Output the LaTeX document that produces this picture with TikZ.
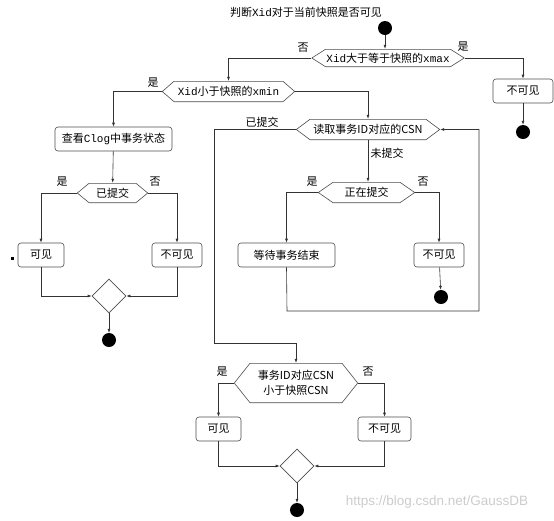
\documentclass[tikz,border=0pt]{standalone}
\usepackage{fontspec}
\setmainfont{Noto Sans CJK SC}
\setmonofont{Liberation Mono}
\newfontfamily\wmfont{Liberation Sans}
\usetikzlibrary{arrows.meta,shapes.geometric}

\tikzset{
  conn/.style={draw=black!80, line width=.6pt},
  arr/.style={conn, -{Latex[length=4pt,width=3pt]}},
  box/.style={draw=black!70, line width=.6pt, rounded corners=3pt, minimum height=24pt, inner sep=0pt},
  hexa/.style={inner sep=0pt, path picture={
      \draw[draw=black!70, line width=.6pt]
        ([xshift=.3pt]path picture bounding box.west)
        -- ([xshift=#1, yshift=-.3pt]path picture bounding box.north west)
        -- ([xshift=-#1, yshift=-.3pt]path picture bounding box.north east)
        -- ([xshift=-.3pt]path picture bounding box.east)
        -- ([xshift=-#1, yshift=.3pt]path picture bounding box.south east)
        -- ([xshift=#1, yshift=.3pt]path picture bounding box.south west)
        -- cycle;}},
  blob/.style={circle, fill=black, minimum size=14pt, inner sep=0pt},
  diam/.style={diamond, draw=black!70, line width=.6pt, minimum width=34pt, minimum height=34pt, inner sep=0pt},
  lab/.style={inner sep=0pt}
}

\begin{document}
\begin{tikzpicture}[x=1pt, y=-1pt, font=\fontsize{11}{15}\selectfont]
  \useasboundingbox (0,0) rectangle (554,520);

  % top decision
  \node (title) at (306,12) {判断\texttt{Xid}对于当前快照是否可见};
  \node[blob] (s1) at (385,28) {};
  \node[hexa=14pt, minimum width=153pt, minimum height=18pt] (h1) at (388,58) {\texttt{Xid}大于等于快照的\texttt{xmax}};
  \node[lab] (no1) at (303,48) {否};
  \node[lab] (yes1) at (463,47) {是};
  \node[box, minimum width=60pt] (r1) at (523,91) {不可见};
  \node[blob] (e1) at (523,132) {};

  % xmin decision
  \node[hexa=12pt, minimum width=133pt, minimum height=21pt] (h2) at (228.5,91.5) {\texttt{Xid}小于快照的\texttt{xmin}};
  \node[lab] (yes2) at (153,83) {是};

  % clog branch
  \node[box, minimum width=117pt] (b1) at (113.5,139) {查看\texttt{Clog}中事务状态};
  \node[hexa=12pt, minimum width=71pt, minimum height=20pt] (h4) at (112.5,193) {已提交};
  \node[lab] (yes4) at (62,182) {是};
  \node[lab] (no4) at (155,182) {否};
  \node[box, minimum width=46pt] (v1) at (41,255) {可见};
  \node[box, minimum width=50pt] (n1) at (177,255) {不可见};
  \node[fill=black, minimum size=3pt, inner sep=0pt] (sq) at (12,258) {};
  \node[diam] (d1) at (109,296) {};
  \node[blob] (e2) at (109,340) {};

  % csn branch
  \node[hexa=14pt, minimum width=144pt, minimum height=21pt] (h3) at (368,129.5) {读取事务ID对应的CSN};
  \node[lab] (done) at (262,122) {已提交};
  \node[lab] (undone) at (387,153) {未提交};
  \node[hexa=15pt, minimum width=97pt, minimum height=21pt] (h5) at (366.5,192.5) {正在提交};
  \node[lab] (yes5) at (312,182) {是};
  \node[lab] (no5) at (423,182) {否};
  \node[box, minimum width=97pt] (w1) at (286.5,255) {等待事务结束};
  \node[box, minimum width=50pt] (n2) at (439,255) {不可见};
  \node[blob] (e3) at (441,297) {};

  % snapshot csn decision
  \node[hexa=16pt, minimum width=124pt, minimum height=40pt, align=center] (h6) at (296,383) {事务ID对应CSN\\小于快照CSN};
  \node[lab] (yes6) at (222,372) {是};
  \node[lab] (no6) at (368,372) {否};
  \node[box, minimum width=45pt] (v2) at (218.5,429) {可见};
  \node[box, minimum width=53pt] (n3) at (384.5,429) {不可见};
  \node[diam] (d2) at (297,466) {};
  \node[blob] (e4) at (297,510) {};

  \node[text=black!20, font=\fontsize{13.5}{15}\wmfont] (wm) at (437,502) {https://blog.csdn.net/GaussDB};

  \coordinate (lp1) at (287,311);
  \coordinate (lp2) at (479,311);
  \coordinate (k1) at (214,343);

  \draw[arr] (s1) -- (s1 |- h1.north);
  \draw[arr] (h1.east) -| (r1.north);
  \draw[arr] (r1) -- (e1);
  \draw[arr] (h1.west) -| (h2.north);
  \draw[arr] (h2.west) -| (b1.north);
  \draw[arr] (h2.east) -| (h3.north);
  \draw[arr] (b1) -- (h4);
  \draw[arr] (h4.west) -| (v1.north);
  \draw[arr] (h4.east) -| (n1.north);
  \draw[arr] (v1.south) |- (d1.west);
  \draw[arr] (n1.south) |- (d1.east);
  \draw[arr] (d1) -- (e2);
  \draw[arr] (h3.south) -- (h3.south |- h5.north);
  \draw[arr] (h5.west) -| (w1.north);
  \draw[arr] (h5.east) -| (n2.north);
  \draw[arr] (n2) -- (e3);
  \draw[arr] (w1.south) -- (lp1) -- (lp2) |- (h3.east);
  \draw[arr] (h3.west) -| (k1) -| (h6.north);
  \draw[arr] (h6.west) -| (v2.north);
  \draw[arr] (h6.east) -| (n3.north);
  \draw[arr] (v2.south) |- (d2.west);
  \draw[arr] (n3.south) |- (d2.east);
  \draw[arr] (d2) -- (e4);
\end{tikzpicture}
\end{document}
